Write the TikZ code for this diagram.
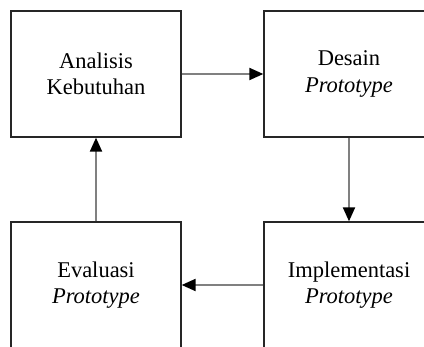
\documentclass[tikz,border=0pt]{standalone}
\usepackage{fontspec}
\setmainfont{Liberation Serif}
\usetikzlibrary{arrows.meta}
\begin{document}
\begin{tikzpicture}[x=1pt,y=-1pt,
  stagebox/.style={draw=black!85,line width=1.3pt,fill=white,minimum width=170pt,minimum height=126pt,
    inner sep=0pt,align=center,font=\fontsize{22.5}{26.5}\selectfont},
  flow/.style={draw=black!50,line width=2pt,-{Triangle[length=14pt,width=12pt,color=black]}}]
\clip (0,0) rectangle (424,347);
\useasboundingbox (0,0) rectangle (424,347);
\node[stagebox] (ak) at (96,74) {Analisis\\Kebutuhan};
\node[stagebox] (dp) at (349,74) {Desain\\\textit{Prototype}};
\node[stagebox] (ip) at (349,285) {Implementasi\\\textit{Prototype}};
\node[stagebox] (ep) at (96,285) {Evaluasi\\\textit{Prototype}};
\draw[flow] (ak.east) -- (dp.west);
\draw[flow] (dp.south) -- (ip.north);
\draw[flow] (ip.west) -- (ep.east);
\draw[flow] (ep.north) -- (ak.south);
\end{tikzpicture}
\end{document}
